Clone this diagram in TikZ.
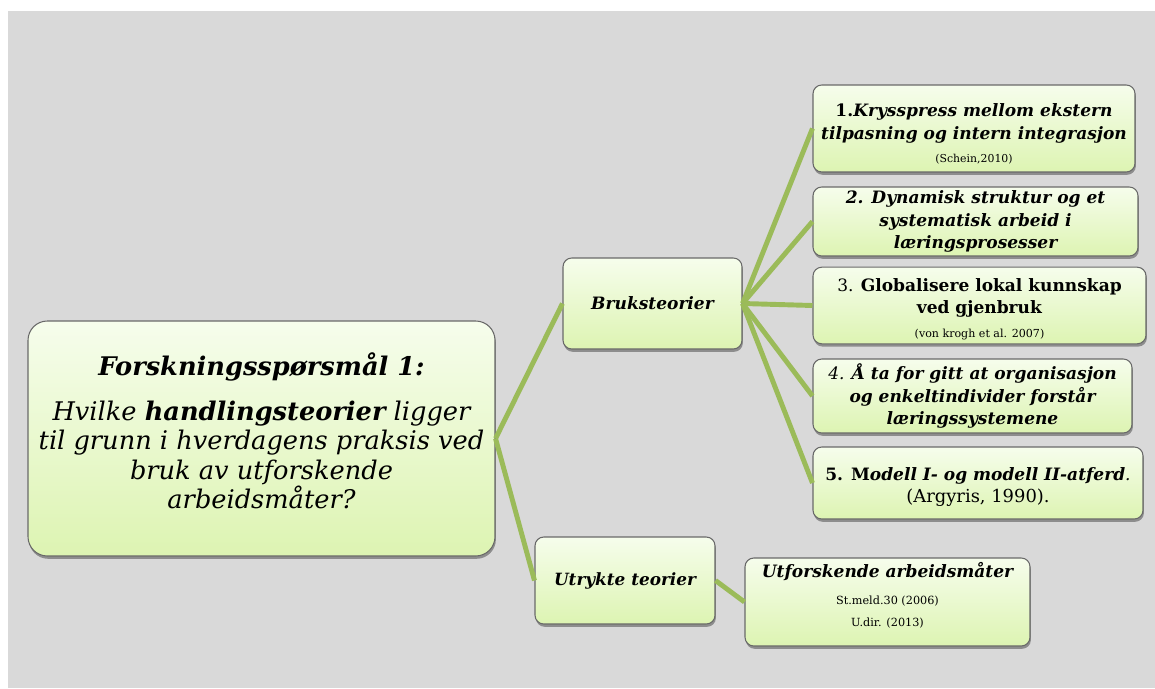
\documentclass[tikz,border=0pt]{standalone}
\usepackage{fontspec}
\setmainfont{DejaVu Serif}
\usepackage{tikz}
\usetikzlibrary{shadows}

\definecolor{bggray}{RGB}{217,217,217}
\definecolor{boxtop}{RGB}{246,253,236}
\definecolor{boxbot}{RGB}{221,244,178}
\definecolor{boxline}{RGB}{105,105,105}
\definecolor{linkgreen}{RGB}{155,187,89}

\begin{document}
\begin{tikzpicture}[
		box/.style={rectangle, rounded corners=5pt, draw=boxline, line width=0.6pt,
			top color=boxtop, bottom color=boxbot, align=center, inner sep=2pt,
			drop shadow={shadow xshift=0.5pt, shadow yshift=-1.6pt, opacity=0.35, fill=black}},
		child/.style={box, font=\fontsize{9.7}{12.6}\selectfont},
		link/.style={draw=linkgreen, line width=2.8pt}
	]
  \useasboundingbox (0,0) rectangle (23.1,13.76);
  \fill[bggray] (0.16,0) rectangle (23.1,13.54);

  \node (q_1) [box, rounded corners=11pt, minimum width=9.34cm, minimum height=4.7cm,
    font=\fontsize{14.6}{16.8}\selectfont\itshape] at (5.23cm, 4.99cm)
    {{\bfseries Forskningsspørsmål 1:}\\[9pt]
     Hvilke \textbf{handlingsteorier} ligger\\
     til grunn i hverdagens praksis ved\\
     bruk av utforskende\\
     arbeidsmåter?\rule[-9pt]{0pt}{9pt}};
  \node (t_b) [box, minimum width=3.58cm, minimum height=1.82cm,
    font=\fontsize{9.7}{12}\selectfont\bfseries\itshape] at (13.05cm, 7.69cm) {Bruksteorier};
  \node (t_u) [box, minimum width=3.6cm, minimum height=1.74cm,
    font=\fontsize{9.6}{12}\selectfont\bfseries\itshape] at (12.5cm, 2.15cm) {Utrykte teorier};

  \node (b_1) [child, minimum width=6.44cm, minimum height=1.74cm] at (19.48cm, 11.19cm)
    {\rule{0pt}{14pt}\textbf{1.}\textbf{\textit{Krysspress mellom ekstern}}\\
     \textbf{\textit{tilpasning og intern integrasjon}}\\[1pt]
     {\fontsize{6.2}{7}\selectfont (Schein,2010)}};
  \node (b_2) [child, minimum width=6.5cm, minimum height=1.38cm,
    font=\fontsize{9.7}{12.8}\selectfont\bfseries\itshape] at (19.51cm, 9.33cm)
    {2. Dynamisk struktur og et\\
     systematisk arbeid i\\
     læringsprosesser};
  \node (b_3) [child, minimum width=6.66cm, minimum height=1.5cm] at (19.59cm, 7.65cm)
    {\rule{0pt}{12pt}3. \textbf{Globalisere lokal kunnskap}\\
     \textbf{ved gjenbruk}\\[1pt]
     {\fontsize{6.3}{7}\selectfont (von krogh et al. 2007)}};
  \node (b_4) [child, minimum width=6.38cm, minimum height=1.48cm,
    font=\fontsize{9.7}{12.8}\selectfont\itshape] at (19.45cm, 5.84cm)
    {4. \textbf{Å ta for gitt at organisasjon}\\
     \textbf{og enkeltindivider forstår}\\
     \textbf{læringssystemene}};
  \node (b_5) [child, minimum width=6.6cm, minimum height=1.44cm] at (19.56cm, 4.10cm)
    {\rule{0pt}{12pt}\textbf{5. M}\textbf{\textit{odell I- og modell II-atferd}}\textit{.}\\
     {\fontsize{10.2}{11}\selectfont (Argyris, 1990).}};

  \node (u_1) [child, minimum width=5.7cm, minimum height=1.76cm] at (17.75cm, 1.72cm)
    {{\fontsize{9.7}{12}\selectfont\bfseries\itshape Utforskende arbeidsmåter}\\[3pt]
     {\fontsize{6.4}{9.6}\selectfont St.meld.30 (2006)}\\
     {\fontsize{6.4}{9.6}\selectfont U.dir. (2013)}\\[-4pt]};

  \draw [link] (q_1.east) -- (t_b.west);
  \draw [link] (q_1.east) -- (t_u.west);
  \foreach \i in {1,...,5}
    \draw [link] (t_b.east) -- (b_\i.west);
  \draw [link] (t_u.east) -- (u_1.west);
\end{tikzpicture}
\end{document}
